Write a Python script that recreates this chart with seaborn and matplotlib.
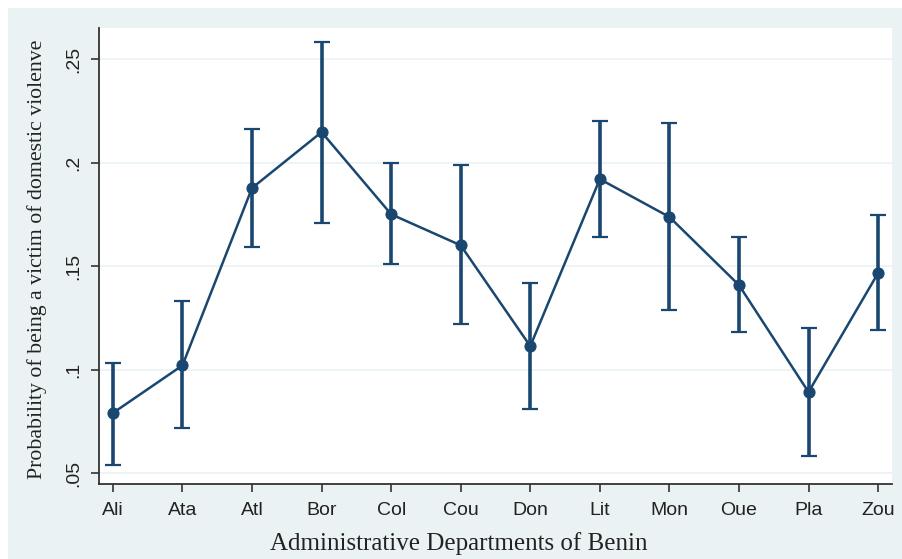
import matplotlib
matplotlib.use("Agg")
import matplotlib.pyplot as plt
import seaborn as sns
import numpy as np
import pandas as pd
from matplotlib.patches import Rectangle
from matplotlib.ticker import FuncFormatter

departments = ["Ali", "Ata", "Atl", "Bor", "Col", "Cou", "Don", "Lit", "Mon", "Oue", "Pla", "Zou"]
prob = [0.079, 0.102, 0.1877, 0.2147, 0.175, 0.160, 0.1113, 0.192, 0.1737, 0.1408, 0.0891, 0.1466]
ci_low = [0.054, 0.0717, 0.159, 0.171, 0.151, 0.122, 0.0809, 0.164, 0.1287, 0.118, 0.058, 0.119]
ci_high = [0.103, 0.133, 0.216, 0.258, 0.1998, 0.1988, 0.1418, 0.220, 0.219, 0.164, 0.120, 0.1746]
y_ticks = [0.05, 0.10, 0.15, 0.20, 0.25]

navy = "#1a476f"
frame_bg = "#eaf2f3"

sns.set_style("white")
fig = plt.figure(figsize=(9.03, 5.59), dpi=100)
fig.patch.set_facecolor("white")
# Stata-like light frame around the graph region
fig.patches.append(Rectangle((8 / 903, 0), 1, 1 - 8 / 559, transform=fig.transFigure,
                             facecolor=frame_bg, edgecolor="none", zorder=-10))

ax = fig.add_axes([99 / 903, 1 - 484 / 559, (892 - 99) / 903, (484 - 28) / 559])
ax.set_facecolor("white")

df = pd.DataFrame({"x": np.arange(len(departments)), "prob": prob})
low = np.array(ci_low)
high = np.array(ci_high)
p = np.array(prob)

ax.errorbar(df["x"], p, yerr=[p - low, high - p], fmt="none", ecolor=navy,
            elinewidth=2.6, capsize=6, capthick=1.6, zorder=2)
sns.lineplot(data=df, x="x", y="prob", ax=ax, color=navy, linewidth=1.8,
             marker="o", markersize=8, markeredgecolor=navy, zorder=3)

ax.set_xlim(-0.2, 11.2)
ax.set_ylim(0.0447, 0.265)
ax.set_xticks(range(len(departments)))
ax.set_xticklabels(departments)
ax.set_yticks(y_ticks)
ax.yaxis.set_major_formatter(FuncFormatter(lambda v, _: ("%g" % round(v, 2)).lstrip("0")))
ax.grid(axis="y", color=frame_bg, linewidth=1.2)
ax.set_axisbelow(True)

for s in ["top", "right"]:
    ax.spines[s].set_visible(False)
for s in ["left", "bottom"]:
    ax.spines[s].set_color("#333333")
    ax.spines[s].set_linewidth(1.3)

ax.tick_params(axis="both", direction="out", length=6, width=1.2, color="#333333",
               labelsize=14, labelcolor="#222222", left=True, bottom=True)
ax.tick_params(axis="x", pad=7)
ax.tick_params(axis="y", pad=6)
for lbl in ax.get_xticklabels() + ax.get_yticklabels():
    lbl.set_fontfamily("Liberation Sans")
for lbl in ax.get_yticklabels():
    lbl.set_rotation(90)
    lbl.set_va("center")

# axis titles placed in figure pixels, as in the reference
ax.set_xlabel("Administrative Departments of Benin", family="Liberation Serif",
              fontsize=18, color="#222222")
ax.xaxis.set_label_coords(459 / 903, 1 - 532 / 559, transform=fig.transFigure)
ax.set_ylabel("Probability of being a victim of domestic violenve", family="Liberation Serif",
              fontsize=15.7, color="#222222")
ax.yaxis.set_label_coords(47 / 903, 1 - 259 / 559, transform=fig.transFigure)

fig.savefig("out.png", dpi=100, facecolor=fig.get_facecolor())
